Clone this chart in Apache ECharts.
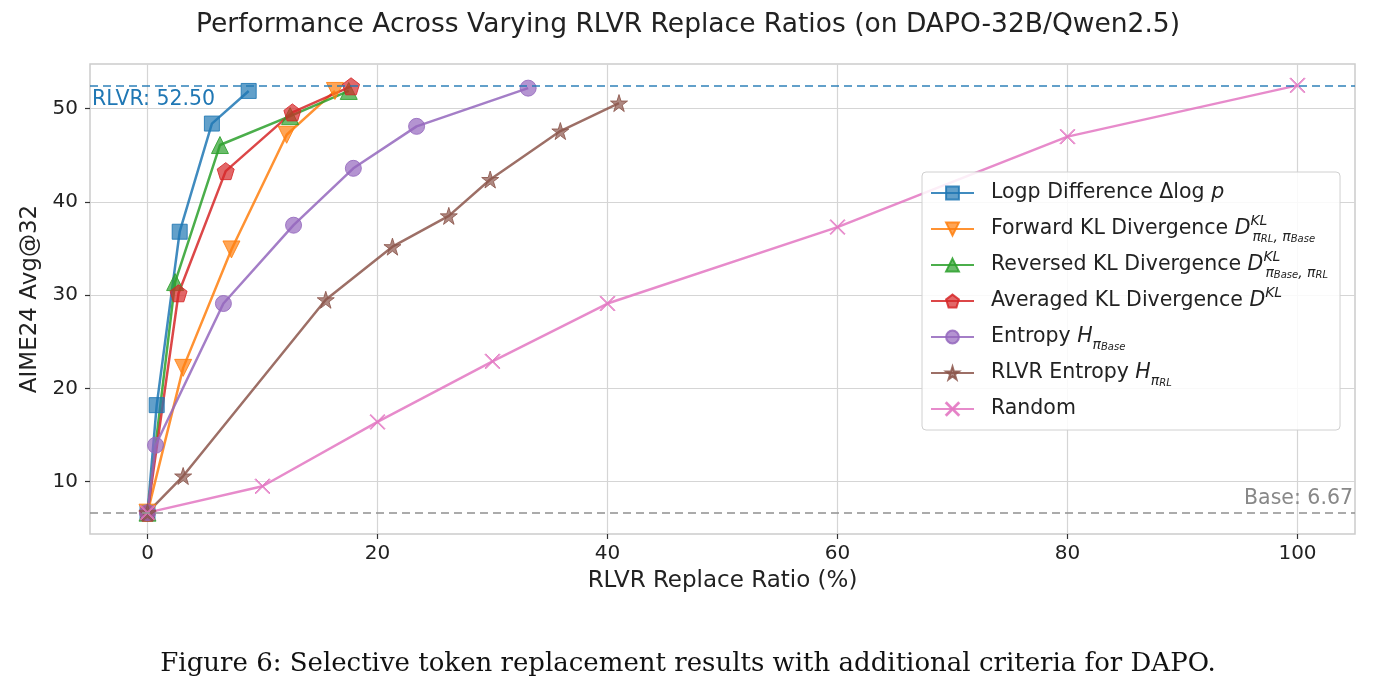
<!DOCTYPE html>
<html>
<head>
<meta charset="utf-8">
<script src="https://cdn.jsdelivr.net/npm/echarts@6/dist/echarts.min.js"></script>
<style>
  html, body { margin: 0; padding: 0; background: #fff; }
  #main { width: 1376px; height: 694px; }
</style>
</head>
<body>
<div id="main"></div>
<script>
// values: [ratio %, AIME24 avg@32]
var logpData = [[0, 6.67], [0.8, 18.2], [2.8, 36.8], [5.6, 48.4], [8.8, 51.9]];
var forwardKLData = [[0, 6.67], [3.1, 22.2], [7.3, 34.9], [12.1, 47.2], [16.3, 51.9]];
var reversedKLData = [[0, 6.67], [2.4, 31.4], [6.3, 46.1], [12.4, 49.2], [17.5, 51.9]];
var averagedKLData = [[0, 6.67], [2.7, 30.2], [6.8, 43.3], [12.6, 49.6], [17.7, 52.4]];
var entropyData = [[0, 6.67], [0.7, 13.9], [6.6, 29.1], [12.7, 37.5], [17.9, 43.6], [23.4, 48.1], [33.1, 52.2]];
var rlvrEntropyData = [[0, 6.67], [3.1, 10.6], [15.5, 29.5], [21.3, 35.2], [26.2, 38.5], [29.8, 42.4], [35.9, 47.6], [41.0, 50.6]];
var randomData = [[0, 6.67], [10, 9.5], [20, 16.4], [30, 22.9], [40, 29.1], [60, 37.3], [80, 47.0], [100, 52.5]];

var rlvrLevel = 52.50;
var baseLevel = 6.67;
var xTicks = [0, 20, 40, 60, 80, 100];
var yTicks = [10, 20, 30, 40, 50];

var chart = echarts.init(document.getElementById('main'));

var font = 'DejaVu Sans';
var pentagon = 'path://M0,-1 L0.951,-0.309 L0.588,0.809 L-0.588,0.809 L-0.951,-0.309 Z';
var star = 'path://M0,-1 L0.2245,-0.309 L0.951,-0.309 L0.3633,0.118 L0.5878,0.809 L0,0.382 L-0.5878,0.809 L-0.3633,0.118 L-0.951,-0.309 L-0.2245,-0.309 Z';
var triDown = 'path://M-1,-0.9 L1,-0.9 L0,0.9 Z';
var cross = 'path://M-1,-0.9 L-0.9,-1 L0,-0.1 L0.9,-1 L1,-0.9 L0.1,0 L1,0.9 L0.9,1 L0,0.1 L-0.9,1 L-1,0.9 L-0.1,0 Z';

function mkSeries(name, data, color, symbol, size) {
    return {
        name: name,
        type: 'line',
        data: data,
        symbol: symbol,
        symbolSize: size,
        showAllSymbol: true,
        lineStyle: { color: color, width: 2.5, opacity: 0.85 },
        itemStyle: { color: echarts.color.modifyAlpha(color, 0.7), borderColor: echarts.color.modifyAlpha(color, 0.85), borderWidth: 1 },
        emphasis: { disabled: true },
        z: 3
    };
}

var names = ['logp', 'fwd', 'rev', 'avg', 'ent', 'rent', 'rand'];
var labels = {
    logp: '{pad|}Logp Difference Δlog {i|p}',
    fwd: '{pad|}Forward KL Divergence {i|D}{sup|KL}{sub|π}{ss|RL}{sub|, π}{ss|Base}',
    rev: '{pad|}Reversed KL Divergence {i|D}{sup|KL}{sub|π}{ss|Base}{sub|, π}{ss|RL}',
    avg: '{pad|}Averaged KL Divergence {i|D}{sup2|KL}',
    ent: '{pad|}Entropy {i|H}{sub|π}{ss|Base}',
    rent: '{pad|}RLVR Entropy {i|H}{sub|π}{ss|RL}',
    rand: '{pad|}Random'
};

var series = [
    mkSeries('logp', logpData, '#1f77b4', 'rect', 15),
    mkSeries('fwd', forwardKLData, '#ff7f0e', triDown, 17),
    mkSeries('rev', reversedKLData, '#2ca02c', 'triangle', 17),
    mkSeries('avg', averagedKLData, '#d62728', pentagon, 17),
    mkSeries('ent', entropyData, '#9467bd', 'circle', 16),
    mkSeries('rent', rlvrEntropyData, '#8c564b', star, 17),
    mkSeries('rand', randomData, '#e377c2', cross, 15)
];

// reference lines
series.push({
    name: 'refs',
    type: 'line',
    data: [],
    markLine: {
        silent: true,
        symbol: 'none',
        data: [
            {
                yAxis: rlvrLevel,
                lineStyle: { color: 'rgba(31,119,180,0.7)', type: [8, 5], width: 2 },
                label: { formatter: 'RLVR: 52.50', position: 'insideStartBottom', distance: [2, 4],
                    color: '#1f77b4', fontSize: 20.5, fontFamily: font }
            },
            {
                yAxis: baseLevel,
                lineStyle: { color: 'rgba(150,150,150,0.8)', type: [8, 5], width: 2 },
                label: { formatter: 'Base: 6.67', position: 'insideEndTop', distance: [2, 3],
                    color: '#888888', fontSize: 20.5, fontFamily: font }
            }
        ]
    },
    z: 2
});

var option = {
    animation: false,
    backgroundColor: '#fff',
    title: [
        {
            text: 'Performance Across Varying RLVR Replace Ratios (on DAPO-32B/Qwen2.5)',
            left: 'center', top: 7,
            textStyle: { fontFamily: font, fontSize: 26.5, fontWeight: 'normal', color: '#222' }
        },
        {
            text: 'Figure 6: Selective token replacement results with additional criteria for DAPO.',
            left: 'center', top: 646,
            textStyle: { fontFamily: 'DejaVu Serif', fontSize: 26, fontWeight: 'normal', color: '#111' }
        }
    ],
    grid: { left: 90, right: 21, top: 64, bottom: 160, show: true, borderColor: '#cccccc', borderWidth: 1.5 },
    legend: {
        data: names,
        orient: 'vertical',
        left: 922, top: 172,
        padding: [6, 12, 6, 8],
        itemWidth: 43, itemHeight: 16,
        itemGap: 6,
        backgroundColor: 'rgba(255,255,255,0.85)',
        borderColor: '#d0d0d0', borderWidth: 1, borderRadius: 4,
        selectedMode: false,
        formatter: function (n) { return labels[n]; },
        textStyle: {
            fontFamily: font, fontSize: 20.5, color: '#222', lineHeight: 30,
            rich: {
                pad: { width: 12 },
                i: { fontFamily: font, fontSize: 20.5, fontStyle: 'italic', color: '#222', lineHeight: 30 },
                sup: { fontFamily: font, fontSize: 14, fontStyle: 'italic', color: '#222', verticalAlign: 'top', lineHeight: 30, width: 2 },
                sup2: { fontFamily: font, fontSize: 14, fontStyle: 'italic', color: '#222', verticalAlign: 'top', lineHeight: 30 },
                sub: { fontFamily: font, fontSize: 14, fontStyle: 'italic', color: '#222', verticalAlign: 'bottom', lineHeight: 28 },
                ss: { fontFamily: font, fontSize: 10, fontStyle: 'italic', color: '#222', verticalAlign: 'bottom', lineHeight: 26 }
            }
        }
    },
    xAxis: {
        type: 'value',
        min: -5, max: 105,
        name: 'RLVR Replace Ratio (%)',
        nameLocation: 'middle', nameGap: 36,
        nameTextStyle: { fontFamily: font, fontSize: 23, color: '#222' },
        axisLine: { show: false, onZero: false },
        axisTick: { show: true, length: 5, customValues: xTicks, lineStyle: { color: '#333', width: 1.2 } },
        axisLabel: { customValues: xTicks, fontFamily: font, fontSize: 20, color: '#222', margin: 10 },
        splitLine: { show: true, lineStyle: { color: '#d5d5d5', width: 1.2 } }
    },
    yAxis: {
        type: 'value',
        min: 4.38, max: 54.79,
        name: 'AIME24 Avg@32',
        nameLocation: 'middle', nameGap: 45,
        nameTextStyle: { fontFamily: font, fontSize: 23, color: '#222' },
        axisLine: { show: false, onZero: false },
        axisTick: { show: true, length: 5, customValues: yTicks, lineStyle: { color: '#333', width: 1.2 } },
        axisLabel: { customValues: yTicks, fontFamily: font, fontSize: 20, color: '#222', margin: 12 },
        splitLine: { show: true, lineStyle: { color: '#d5d5d5', width: 1.2 } }
    },
    series: series
};

chart.setOption(option);
</script>
</body>
</html>
